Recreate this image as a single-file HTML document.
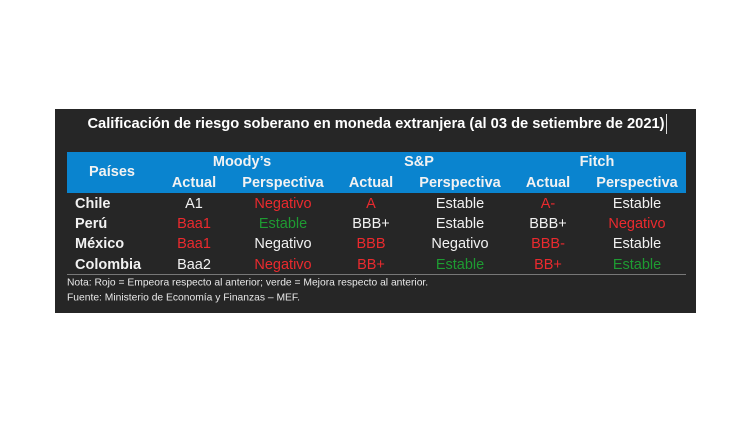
<!DOCTYPE html>
<html><head><meta charset="utf-8"><style>
html,body{margin:0;padding:0;background:#fff;}
body{width:750px;height:423px;position:relative;overflow:hidden;font-family:"Liberation Sans",sans-serif;}
#panel{position:absolute;left:55px;top:109px;width:641px;height:204px;background:#262626;}
#hdr{position:absolute;left:67px;top:152px;width:619px;height:41px;background:#0a84cf;}
.t{position:absolute;white-space:nowrap;transform:translate(-50%,-50%);font-size:14.5px;color:#f2f2f2;}
.b{font-weight:bold;}
.l{transform:translate(0,-50%);}
.r{color:#ea2a2e;}.g{color:#1e9b32;}
#line{position:absolute;left:67px;top:274px;width:619px;height:1px;background:#777;}
.n{position:absolute;left:67px;font-size:10.3px;color:#e8e8e8;white-space:nowrap;transform:translate(0,-50%);}
</style></head><body>
<div id="panel"></div>
<div class="t b" style="left:376px;top:124px;font-size:14.7px;color:#fff">Calificación de riesgo soberano en moneda extranjera (al 03 de setiembre de 2021)</div>
<div style="position:absolute;left:666px;top:114px;width:1px;height:20px;background:#ddd"></div>
<div id="hdr"></div>
<div class="t b" style="left:112px;top:172px">Países</div>
<div class="t b" style="left:242px;top:162px">Moody’s</div>
<div class="t b" style="left:419px;top:162px">S&amp;P</div>
<div class="t b" style="left:597px;top:162px">Fitch</div>
<div class="t b" style="left:194px;top:183px">Actual</div>
<div class="t b" style="left:283px;top:183px">Perspectiva</div>
<div class="t b" style="left:371px;top:183px">Actual</div>
<div class="t b" style="left:460px;top:183px">Perspectiva</div>
<div class="t b" style="left:548px;top:183px">Actual</div>
<div class="t b" style="left:637px;top:183px">Perspectiva</div>

<div class="t b l" style="left:75px;top:204px">Chile</div>
<div class="t" style="left:194px;top:204px">A1</div>
<div class="t r" style="left:283px;top:204px">Negativo</div>
<div class="t r" style="left:371px;top:204px">A</div>
<div class="t" style="left:460px;top:204px">Estable</div>
<div class="t r" style="left:548px;top:204px">A-</div>
<div class="t" style="left:637px;top:204px">Estable</div>

<div class="t b l" style="left:75px;top:224px">Perú</div>
<div class="t r" style="left:194px;top:224px">Baa1</div>
<div class="t g" style="left:283px;top:224px">Estable</div>
<div class="t" style="left:371px;top:224px">BBB+</div>
<div class="t" style="left:460px;top:224px">Estable</div>
<div class="t" style="left:548px;top:224px">BBB+</div>
<div class="t r" style="left:637px;top:224px">Negativo</div>

<div class="t b l" style="left:75px;top:244px">México</div>
<div class="t r" style="left:194px;top:244px">Baa1</div>
<div class="t" style="left:283px;top:244px">Negativo</div>
<div class="t r" style="left:371px;top:244px">BBB</div>
<div class="t" style="left:460px;top:244px">Negativo</div>
<div class="t r" style="left:548px;top:244px">BBB-</div>
<div class="t" style="left:637px;top:244px">Estable</div>

<div class="t b l" style="left:75px;top:265px">Colombia</div>
<div class="t" style="left:194px;top:265px">Baa2</div>
<div class="t r" style="left:283px;top:265px">Negativo</div>
<div class="t r" style="left:371px;top:265px">BB+</div>
<div class="t g" style="left:460px;top:265px">Estable</div>
<div class="t r" style="left:548px;top:265px">BB+</div>
<div class="t g" style="left:637px;top:265px">Estable</div>

<div id="line"></div>
<div class="n" style="top:283px">Nota: Rojo = Empeora respecto al anterior; verde = Mejora respecto al anterior.</div>
<div class="n" style="top:298px">Fuente: Ministerio de Economía y Finanzas – MEF.</div>
</body></html>
